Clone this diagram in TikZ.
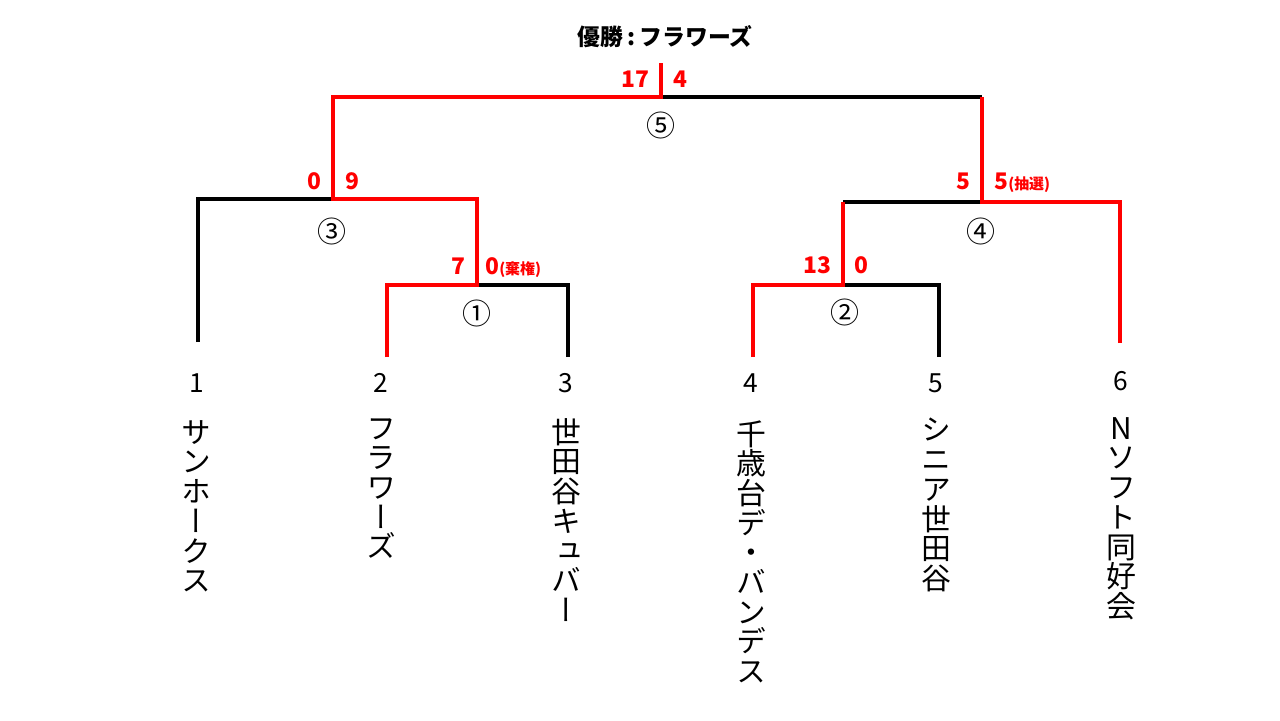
\documentclass[tikz,border=0pt]{standalone}
\usepackage{fontspec}
\setmainfont{Noto Sans CJK JP}
\newfontfamily\jpv[RawFeature=+vert]{Noto Sans CJK JP}
\usetikzlibrary{calc}

\tikzset{
    win/.style={red, line width=2.2pt},
    lose/.style={black, line width=2.2pt},
    score/.style={text=red, font=\bfseries\fontsize{13pt}{15pt}\selectfont, inner sep=0pt},
    mnum/.style={font=\fontsize{16.5pt}{18pt}\selectfont, inner sep=0pt},
    seed/.style={font=\fontsize{15pt}{17pt}\selectfont, inner sep=0pt},
    team/.style={font=\jpv\fontsize{17pt}{16.9pt}\selectfont, align=center, inner sep=0pt, anchor=north}
}
\newcommand{\note}[1]{{\fontsize{8.5pt}{9pt}\selectfont #1}}

\begin{document}
\begin{tikzpicture}[x=0.02cm, y=-0.02cm]
    \useasboundingbox (0,0) rectangle (1280,720);

    % --- COORDINATES ---
    % bottoms of the seed lines
    \coordinate (b1) at (198,342);
    \coordinate (b2) at (387,357);
    \coordinate (b3) at (568,357);
    \coordinate (b4) at (753,357);
    \coordinate (b5) at (939,357);
    \coordinate (b6) at (1120,343);
    % match centres
    \coordinate (m1) at (477,285);
    \coordinate (m2) at (843,285);
    \coordinate (m3) at (333,199);
    \coordinate (m4) at (982,202);
    \coordinate (m5) at (661,97);
    \coordinate (top) at (661,63);

    % --- LINES ---
    % losers (black)
    \draw[lose] (b1) |- (m3);
    \draw[lose] (b3) |- (m1);
    \draw[lose] (b5) |- (m2);
    \draw[lose] (m2 |- m4) -- (m4);
    \draw[lose] (m4 |- m5) -- (m5);
    % winners (red)
    \draw[win] (b2) |- (m1) |- (m3) |- (m5) -- (top);
    \draw[win] (b4) |- (m2) -- (m2 |- m4);
    \draw[win] (b6) |- (m4) -- (m4 |- m5);

    % --- TITLE ---
    \node[font=\bfseries\fontsize{13pt}{15pt}\selectfont, inner sep=0pt] (title) at (665,37) {優勝\hspace{2.5pt}:\hspace{2.5pt}フラワーズ};

    % --- SCORES ---
    \node[score, anchor=base east] (s5a) at ($(m5)+(-11,-10)$) {17};
    \node[score, anchor=base west] (s5b) at ($(m5)+(12,-10)$) {4};
    \node[score, anchor=base east] (s3a) at ($(m3)+(-11,-10)$) {0};
    \node[score, anchor=base west] (s3b) at ($(m3)+(12,-10)$) {9};
    \node[score, anchor=base east] (s1a) at ($(m1)+(-11,-11)$) {7};
    \node[score, anchor=base west] (s1b) at ($(m1)+(8,-11)$) {0\note{(棄権)}};
    \node[score, anchor=base east] (s2a) at ($(m2)+(-11,-12)$) {13};
    \node[score, anchor=base west] (s2b) at ($(m2)+(11,-12)$) {0};
    \node[score, anchor=base east] (s4a) at ($(m4)+(-11,-13)$) {5};
    \node[score, anchor=base west] (s4b) at ($(m4)+(12,-13)$) {5\note{(抽選)}};

    % --- MATCH NUMBERS ---
    \node[mnum] (n1) at (477,313) {①};
    \node[mnum] (n2) at (845,312) {②};
    \node[mnum] (n3) at (332,231) {③};
    \node[mnum] (n4) at (981,231) {④};
    \node[mnum] (n5) at (661,125) {⑤};

    % --- SEEDS ---
    \node[seed] (p1) at (197,383) {1};
    \node[seed] (p2) at (381,383) {2};
    \node[seed] (p3) at (566,383) {3};
    \node[seed] (p4) at (751,383) {4};
    \node[seed] (p5) at (936,383) {5};
    \node[seed] (p6) at (1121,381) {6};

    % --- TEAMS ---
    \node[team] (t1) at (196,420) {サ\\ン\\ホ\\ー\\ク\\ス};
    \node[team] (t2) at (381,418) {フ\\ラ\\ワ\\ー\\ズ};
    \node[team] (t3) at (566,418) {世\\田\\谷\\キ\\ュ\\バ\\ー};
    \node[team] (t4) at (751,420) {千\\歳\\台\\デ\\・\\バ\\ン\\デ\\ス};
    \node[team] (t5) at (936,418) {シ\\ニ\\ア\\世\\田\\谷};
    \node[team] (t6) at (1121,417) {N\\ソ\\フ\\ト\\同\\好\\会};
\end{tikzpicture}
\end{document}
